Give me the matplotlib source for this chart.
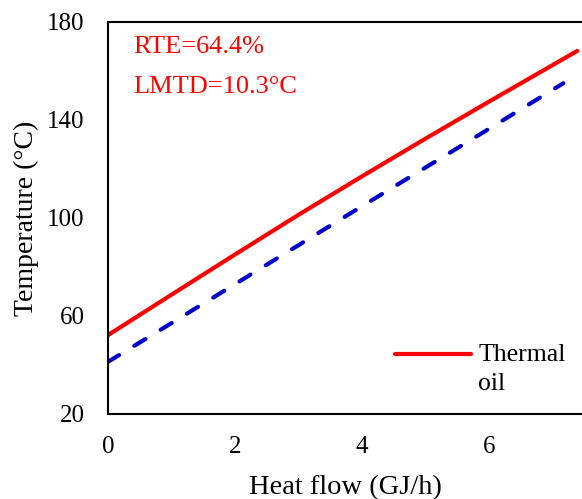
import matplotlib.pyplot as plt
from matplotlib.legend_handler import HandlerLine2D

plt.rcParams['font.family'] = ['Liberation Serif', 'DejaVu Serif']

# Thermal oil (hot side) and cold stream temperature vs heat flow
oil_q = [0, 1, 2, 3, 4, 5, 6, 7.39]
oil_t = [52.2, 68.7, 85.1, 101.3, 117.0, 132.4, 147.5, 168.2]
cold_q = [0, 1, 2, 3, 4, 5, 6, 7.17]
cold_t = [41.3, 57.1, 73.0, 88.9, 104.8, 120.6, 136.4, 155.0]

x_ticks = [0, 2, 4, 6]
y_ticks = [20, 60, 100, 140, 180]


class TopLineHandler(HandlerLine2D):
    # put the legend line beside the first line of a two-line label
    def create_artists(self, legend, orig_handle, xdescent, ydescent, width, height,
                       fontsize, trans):
        return super().create_artists(legend, orig_handle, xdescent,
                                      ydescent - 1.17 * fontsize, width, height,
                                      fontsize, trans)


fig = plt.figure(figsize=(5.82, 4.99), dpi=100)
ax = fig.add_axes([108 / 582, 85 / 499, 474 / 582, 392 / 499])

oil, = ax.plot(oil_q, oil_t, color='#ff0000', lw=3, solid_capstyle='round', label='Thermal\noil')
ax.plot(cold_q, cold_t, color='#0000cc', lw=3, dashes=(3.1, 4.3), dash_capstyle='round')

ax.set_xlim(0, 474 / 63.5)
ax.set_ylim(20, 180)
ax.set_xticks(x_ticks)
ax.set_yticks(y_ticks)
ax.tick_params(length=0, labelsize=18)
ax.tick_params(axis='x', pad=16)
ax.tick_params(axis='y', pad=17)
ax.spines['right'].set_visible(False)
for s in ['left', 'bottom', 'top']:
    ax.spines[s].set_linewidth(1.5)

ax.set_xlabel('Heat flow (GJ/h)', fontsize=20.5, labelpad=12)
ax.set_ylabel('Temperature (°C)', fontsize=20, labelpad=6)

ax.text(0.39, 169.8, 'RTE=64.4%', color='#ff0000', fontsize=19, va='center')
ax.text(0.39, 153.5, 'LMTD=10.3°C', color='#ff0000', fontsize=19, va='center')

leg = ax.legend(handles=[oil], loc='upper left', bbox_to_anchor=(0.567, 0.225), frameon=False,
                fontsize=18.5, handlelength=2.95, handletextpad=0.3, borderpad=0.2,
                handler_map={oil: TopLineHandler()})
leg.get_texts()[0].set_linespacing(1.45)

fig.savefig('out.png', dpi=100)
